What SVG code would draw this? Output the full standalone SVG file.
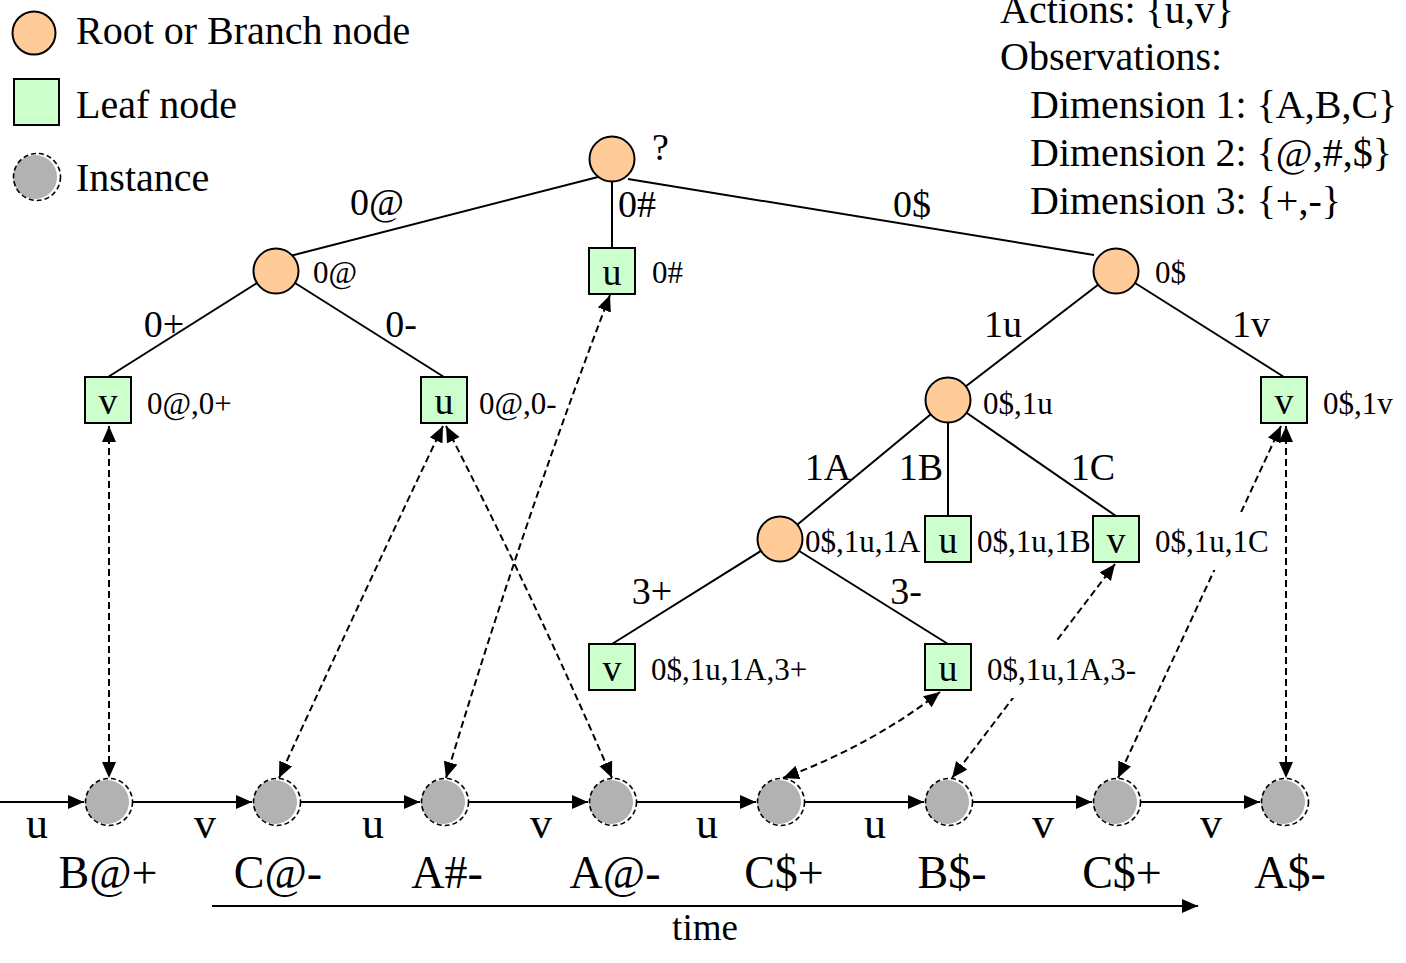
<svg xmlns="http://www.w3.org/2000/svg" width="1406" height="963" viewBox="0 0 1406 963">
<style>
text{font-family:"Liberation Serif","Times New Roman",serif;fill:#000}
.big{font-size:40px}
.edge{font-size:38px}
.nl{font-size:31px}
.leaf{font-size:38px;text-anchor:middle}
.inst{font-size:46px;text-anchor:middle}
.act{font-size:44px;text-anchor:middle}
.branch{fill:#ffcc99;stroke:#000;stroke-width:2}
.lf{fill:#ccffcc;stroke:#000;stroke-width:2}
.igrey{fill:#b2b2b2}
.iout{fill:none;stroke:#000;stroke-width:1.6;stroke-dasharray:5 3}
.tree line{stroke:#000;stroke-width:2}
.dash{fill:none;stroke:#000;stroke-width:2;stroke-dasharray:7 4;marker-start:url(#ah);marker-end:url(#ah)}
.seq{stroke:#000;stroke-width:2;marker-end:url(#ah)}
.bg{fill:#fff}
</style>
<defs>
<marker id="ah" markerUnits="userSpaceOnUse" markerWidth="17" markerHeight="15" refX="16" refY="7" orient="auto-start-reverse" viewBox="0 0 17 15">
<path d="M0,0 L16,7 L0,14 z" fill="#000"/>
</marker>
</defs>

<g id="legend">
<circle class="branch" cx="34" cy="33" r="21.5"/>
<text class="big" x="76" y="44">Root or Branch node</text>
<rect class="lf" x="14" y="79" width="45" height="46"/>
<text class="big" x="76" y="118">Leaf node</text>
<circle class="igrey" cx="35" cy="177" r="22"/>
<circle class="iout" cx="37" cy="177" r="23.5"/>
<text class="big" x="76" y="191">Instance</text>
</g>

<g id="info">
<text class="big" x="1000" y="23">Actions: {u,v}</text>
<text class="big" x="1000" y="70">Observations:</text>
<text class="big" x="1030" y="118">Dimension 1: {A,B,C}</text>
<text class="big" x="1030" y="166">Dimension 2: {@,#,$}</text>
<text class="big" x="1030" y="214">Dimension 3: {+,-}</text>
</g>

<g id="tree-edges" class="tree">
<line x1="598" y1="177" x2="290" y2="256"/>
<line x1="612" y1="159" x2="612" y2="248"/>
<line x1="628" y1="179" x2="1094" y2="255"/>
<line x1="276" y1="271" x2="108" y2="377"/>
<line x1="276" y1="271" x2="444" y2="377"/>
<line x1="1116" y1="271" x2="948" y2="400"/>
<line x1="1116" y1="271" x2="1284" y2="377"/>
<line x1="948" y1="400" x2="780" y2="539"/>
<line x1="948" y1="400" x2="948" y2="516"/>
<line x1="948" y1="400" x2="1116" y2="516"/>
<line x1="780" y1="539" x2="612" y2="644"/>
<line x1="780" y1="539" x2="948" y2="644"/>
</g>

<g id="edge-labels">
<text class="edge" x="377" y="215" text-anchor="middle">0@</text>
<text class="edge" x="618" y="217">0#</text>
<text class="edge" x="912" y="217" text-anchor="middle">0$</text>
<text class="edge" x="164" y="337" text-anchor="middle">0+</text>
<text class="edge" x="401" y="337" text-anchor="middle">0-</text>
<text class="edge" x="1003" y="337" text-anchor="middle">1u</text>
<text class="edge" x="1251" y="337" text-anchor="middle">1v</text>
<text class="edge" x="828" y="480" text-anchor="middle">1A</text>
<text class="edge" x="921" y="480" text-anchor="middle">1B</text>
<text class="edge" x="1093" y="480" text-anchor="middle">1C</text>
<text class="edge" x="652" y="604" text-anchor="middle">3+</text>
<text class="edge" x="906" y="604" text-anchor="middle">3-</text>
</g>

<g id="connectors">
<path class="dash" d="M109 426 L109 778"/>
<path class="dash" d="M443 426 Q 372 575 279 778"/>
<path class="dash" d="M446 426 Q 540 610 612 778"/>
<path class="dash" d="M610 295 Q 522 525 446 778"/>
<path class="dash" d="M940 692 Q 872 745 783 778"/>
<path class="dash" d="M1115 564 L952 778"/>
<path class="dash" d="M1281 426 L1118 778"/>
<path class="dash" d="M1286 426 L1286 778"/>
<path class="seq" d="M0 802 L84 802"/>
<path class="seq" d="M133 802 L252 802"/>
<path class="seq" d="M301 802 L420 802"/>
<path class="seq" d="M469 802 L588 802"/>
<path class="seq" d="M637 802 L756 802"/>
<path class="seq" d="M805 802 L924 802"/>
<path class="seq" d="M973 802 L1092 802"/>
<path class="seq" d="M1141 802 L1260 802"/>
<path class="seq" d="M212 906 L1198 906"/>
</g>

<g id="root">
<circle class="branch" cx="612" cy="159" r="22.5"/>
<text class="edge" x="652" y="160">?</text>
</g>
<g id="n-0at">
<circle class="branch" cx="276" cy="271" r="22.5"/>
<text class="nl" x="313" y="283">0@</text>
</g>
<g id="n-0dollar">
<circle class="branch" cx="1116" cy="271" r="22.5"/>
<text class="nl" x="1155" y="283">0$</text>
</g>
<g id="n-0dollar-1u">
<circle class="branch" cx="948" cy="400" r="22.5"/>
<text class="nl" x="983" y="414">0$,1u</text>
</g>
<g id="n-0dollar-1u-1A">
<circle class="branch" cx="780" cy="539" r="22.5"/>
<text class="nl" x="805" y="552">0$,1u,1A</text>
</g>

<g id="l-0hash">
<rect class="lf" x="589" y="248" width="46" height="46"/>
<text class="leaf" x="612" y="285">u</text>
<text class="nl" x="652" y="283">0#</text>
</g>
<g id="l-0at-0plus">
<rect class="lf" x="85" y="377" width="46" height="46"/>
<text class="leaf" x="108" y="414">v</text>
<text class="nl" x="147" y="414">0@,0+</text>
</g>
<g id="l-0at-0minus">
<rect class="lf" x="421" y="377" width="46" height="46"/>
<text class="leaf" x="444" y="414">u</text>
<text class="nl" x="479" y="414">0@,0-</text>
</g>
<g id="l-0dollar-1v">
<rect class="lf" x="1261" y="377" width="46" height="46"/>
<text class="leaf" x="1284" y="414">v</text>
<text class="nl" x="1323" y="414">0$,1v</text>
</g>
<g id="l-1B">
<rect class="lf" x="925" y="516" width="46" height="46"/>
<text class="leaf" x="948" y="553">u</text>
<text class="nl" x="977" y="552">0$,1u,1B</text>
</g>
<g id="l-1C">
<rect class="bg" x="1150" y="512" width="126" height="58"/>
<rect class="lf" x="1093" y="516" width="46" height="46"/>
<text class="leaf" x="1116" y="553">v</text>
<text class="nl" x="1155" y="552">0$,1u,1C</text>
</g>
<g id="l-3plus">
<rect class="lf" x="589" y="644" width="46" height="46"/>
<text class="leaf" x="612" y="681">v</text>
<text class="nl" x="651" y="680">0$,1u,1A,3+</text>
</g>
<g id="l-3minus">
<rect class="bg" x="982" y="642" width="162" height="56"/>
<rect class="lf" x="925" y="644" width="46" height="46"/>
<text class="leaf" x="948" y="681">u</text>
<text class="nl" x="987" y="680">0$,1u,1A,3-</text>
</g>

<g id="instances">
<g id="i1"><circle class="igrey" cx="107" cy="802" r="22"/><circle class="iout" cx="109" cy="802" r="23.5"/><text class="inst" x="108" y="888">B@+</text></g>
<g id="i2"><circle class="igrey" cx="275" cy="802" r="22"/><circle class="iout" cx="277" cy="802" r="23.5"/><text class="inst" x="278" y="888">C@-</text></g>
<g id="i3"><circle class="igrey" cx="443" cy="802" r="22"/><circle class="iout" cx="445" cy="802" r="23.5"/><text class="inst" x="447" y="888">A#-</text></g>
<g id="i4"><circle class="igrey" cx="611" cy="802" r="22"/><circle class="iout" cx="613" cy="802" r="23.5"/><text class="inst" x="615" y="888">A@-</text></g>
<g id="i5"><circle class="igrey" cx="779" cy="802" r="22"/><circle class="iout" cx="781" cy="802" r="23.5"/><text class="inst" x="784" y="888">C$+</text></g>
<g id="i6"><circle class="igrey" cx="947" cy="802" r="22"/><circle class="iout" cx="949" cy="802" r="23.5"/><text class="inst" x="952" y="888">B$-</text></g>
<g id="i7"><circle class="igrey" cx="1115" cy="802" r="22"/><circle class="iout" cx="1117" cy="802" r="23.5"/><text class="inst" x="1122" y="888">C$+</text></g>
<g id="i8"><circle class="igrey" cx="1283" cy="802" r="22"/><circle class="iout" cx="1285" cy="802" r="23.5"/><text class="inst" x="1290" y="888">A$-</text></g>
</g>

<g id="actions">
<text class="act" x="37" y="838">u</text>
<text class="act" x="205" y="838">v</text>
<text class="act" x="373" y="838">u</text>
<text class="act" x="541" y="838">v</text>
<text class="act" x="707" y="838">u</text>
<text class="act" x="875" y="838">u</text>
<text class="act" x="1043" y="838">v</text>
<text class="act" x="1211" y="838">v</text>
<text x="705" y="940" font-size="37" text-anchor="middle">time</text>
</g>
</svg>
